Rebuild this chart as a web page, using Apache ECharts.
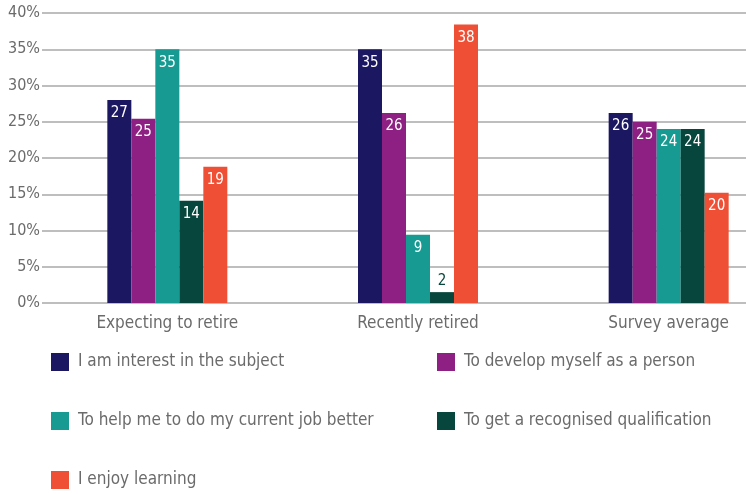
<!DOCTYPE html>
<html>
<head>
<meta charset="utf-8">
<script src="https://cdn.jsdelivr.net/npm/echarts@6/dist/echarts.min.js"></script>
<style>html,body{margin:0;padding:0;background:#fff;overflow:hidden}#c{width:800px;height:494px}</style>
</head>
<body>
<div id="c"></div>
<script>
var categories = ['Expecting to retire', 'Recently retired', 'Survey average'];
var seriesNames = ['I am interest in the subject', 'To develop myself as a person', 'To help me to do my current job better', 'To get a recognised qualification', 'I enjoy learning'];
var colors = ['#1b1760', '#8e2083', '#179a91', '#07463c', '#ef5035'];
var interestValues = [28.0, 35.0, 26.2];
var developValues = [25.4, 26.2, 25.0];
var jobValues = [35.0, 9.4, 24.0];
var qualificationValues = [14.1, 1.5, 24.0];
var enjoyValues = [18.8, 38.4, 15.2];
var interestLabels = [27, 35, 26];
var developLabels = [25, 26, 25];
var jobLabels = [35, 9, 24];
var qualificationLabels = [14, 2, 24];
var enjoyLabels = [19, 38, 20];
var yTicks = [0, 5, 10, 15, 20, 25, 30, 35, 40];

var allValues = [interestValues, developValues, jobValues, qualificationValues, enjoyValues];
var allLabels = [interestLabels, developLabels, jobLabels, qualificationLabels, enjoyLabels];
var FONT = "'DejaVu Sans Condensed', 'Liberation Sans Narrow', 'Open Sans', sans-serif";

var series = seriesNames.map(function (name, s) {
  return {
    name: name,
    type: 'bar',
    barWidth: 24,
    barGap: '0%',
    itemStyle: { color: colors[s] },
    data: allValues[s].map(function (v, i) {
      var lbl = String(allLabels[s][i]);
      var small = v < 5;
      return {
        value: v,
        label: {
          show: true,
          formatter: lbl,
          position: small ? 'top' : 'insideTop',
          distance: small ? 4 : 6,
          color: small ? colors[s] : '#ffffff',
          fontSize: 15,
          fontFamily: FONT
        }
      };
    })
  };
});

var legendBase = {
  orient: 'vertical', top: 353, padding: 0, height: 141,
  itemWidth: 18, itemHeight: 18, itemGap: 41, icon: 'rect',
  textStyle: { color: '#6b6b6b', fontSize: 17, fontFamily: FONT, padding: [0, 0, 0, 4] }
};

var chart = echarts.init(document.getElementById('c'), null, { renderer: 'canvas' });
chart.setOption({
  animation: false,
  grid: { left: 42, right: 6, top: 13, bottom: 191, containLabel: false },
  legend: [
    Object.assign({}, legendBase, { data: [seriesNames[0], seriesNames[2], seriesNames[4]], left: 51 }),
    Object.assign({}, legendBase, { data: [seriesNames[1], seriesNames[3]], left: 437 })
  ],
  xAxis: {
    type: 'category',
    data: categories,
    axisLine: { show: false },
    axisTick: { show: false },
    axisLabel: { color: '#6b6b6b', fontSize: 17, fontFamily: FONT, margin: 12 }
  },
  yAxis: {
    type: 'value',
    min: yTicks[0], max: yTicks[yTicks.length - 1], interval: 5,
    axisLine: { show: false },
    axisTick: { show: false },
    splitLine: { lineStyle: { color: '#a8a8a8', width: 1.5 } },
    axisLabel: { color: '#6b6b6b', fontSize: 16, fontFamily: FONT, margin: 2, formatter: '{value}%' }
  },
  series: series
});
</script>
</body>
</html>
